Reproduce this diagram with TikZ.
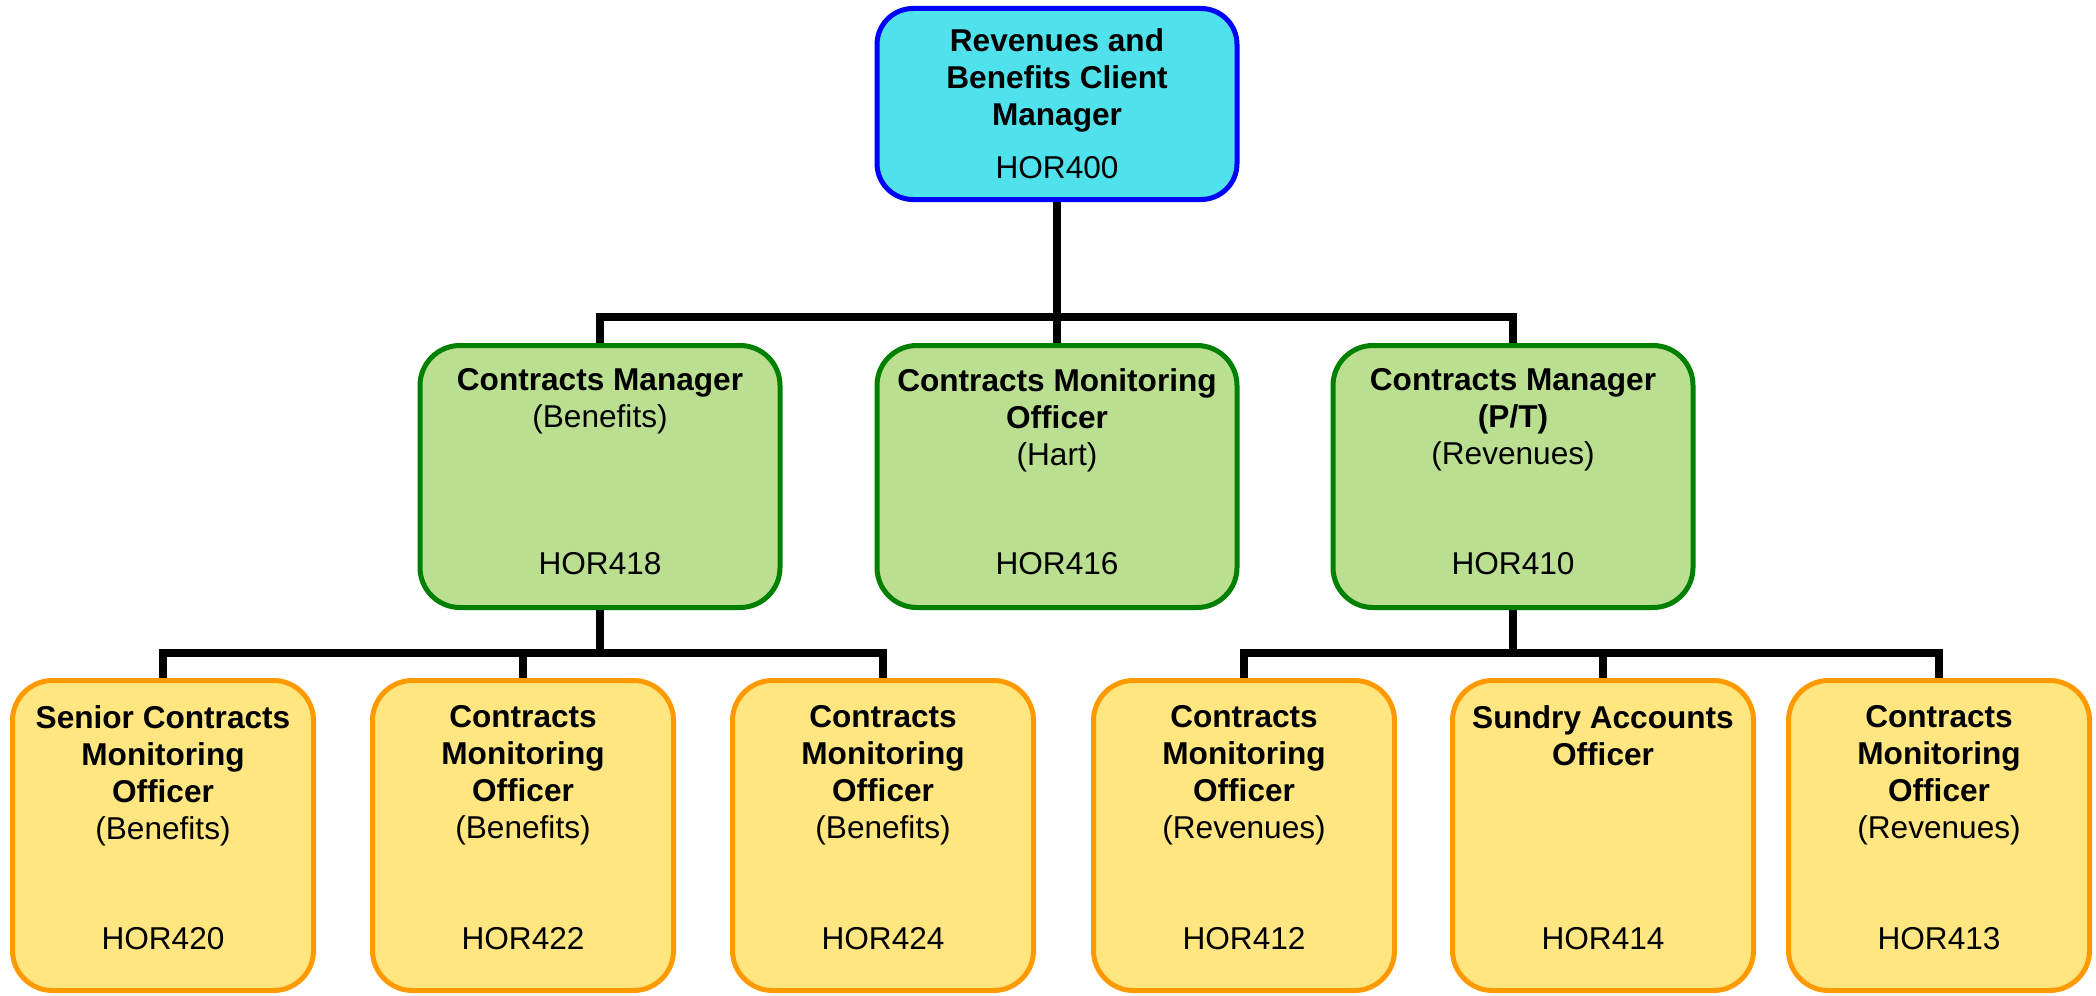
\documentclass[tikz,border=0pt]{standalone}
\usepackage{fontspec}
\setmainfont{Liberation Sans}
\usetikzlibrary{backgrounds}

\definecolor{topfill}{RGB}{79,226,236}
\definecolor{topline}{RGB}{0,0,255}
\definecolor{midfill}{RGB}{187,223,145}
\definecolor{midline}{RGB}{0,128,0}
\definecolor{lowfill}{RGB}{255,230,128}
\definecolor{lowline}{RGB}{255,153,0}

\begin{document}
\begin{tikzpicture}[x=0.5pt, y=-0.5pt,
        font=\fontsize{15.8pt}{18.5pt}\selectfont,
        every label/.style={inner sep=0pt, align=center},
        boss/.style={draw=topline, fill=topfill, line width=2.5pt, rounded corners=18pt,
            minimum width=180pt, minimum height=95.5pt, inner sep=0pt},
        mgr/.style={draw=midline, fill=midfill, line width=2.5pt, rounded corners=20pt,
            minimum width=180pt, minimum height=131pt, inner sep=0pt},
        staff/.style={draw=lowline, fill=lowfill, line width=2.5pt, rounded corners=20pt,
            minimum width=150.5pt, minimum height=155pt, inner sep=0pt},
        headtop/.style={anchor=north, yshift=-11.25pt},
        headmid/.style={anchor=north, yshift=-12.5pt},
        headlow/.style={anchor=north, yshift=-13.75pt},
        codetop/.style={anchor=base, yshift=12pt},
        codemid/.style={anchor=base, yshift=17.75pt},
        codelow/.style={anchor=base, yshift=22pt},
        link/.style={line width=4pt}]
        \useasboundingbox (0,0) rectangle (2096,995);

        \node[boss, label={[headtop]north:{\textbf{Revenues and}\\\textbf{Benefits Client}\\\textbf{Manager}}},
            label={[codetop]south:HOR400}] (h400) at (1057,104) {};

        \node[mgr, label={[headmid]north:{\textbf{Contracts Manager}\\(Benefits)}},
            label={[codemid]south:HOR418}] (h418) at (600,476.5) {};
        \node[mgr, label={[headmid]north:{\textbf{Contracts Monitoring}\\\textbf{Officer}\\(Hart)}},
            label={[codemid]south:HOR416}] (h416) at (1057,476.5) {};
        \node[mgr, label={[headmid]north:{\textbf{Contracts Manager}\\\textbf{(P/T)}\\(Revenues)}},
            label={[codemid]south:HOR410}] (h410) at (1513,476.5) {};

        \node[staff, label={[headlow]north:{\textbf{Senior Contracts}\\\textbf{Monitoring}\\\textbf{Officer}\\(Benefits)}},
            label={[codelow]south:HOR420}] (h420) at (163,835.5) {};
        \node[staff, label={[headlow]north:{\textbf{Contracts}\\\textbf{Monitoring}\\\textbf{Officer}\\(Benefits)}},
            label={[codelow]south:HOR422}] (h422) at (523,835.5) {};
        \node[staff, label={[headlow]north:{\textbf{Contracts}\\\textbf{Monitoring}\\\textbf{Officer}\\(Benefits)}},
            label={[codelow]south:HOR424}] (h424) at (883,835.5) {};
        \node[staff, label={[headlow]north:{\textbf{Contracts}\\\textbf{Monitoring}\\\textbf{Officer}\\(Revenues)}},
            label={[codelow]south:HOR412}] (h412) at (1244,835.5) {};
        \node[staff, label={[headlow]north:{\textbf{Sundry Accounts}\\\textbf{Officer}}},
            label={[codelow]south:HOR414}] (h414) at (1603,835.5) {};
        \node[staff, label={[headlow]north:{\textbf{Contracts}\\\textbf{Monitoring}\\\textbf{Officer}\\(Revenues)}},
            label={[codelow]south:HOR413}] (h413) at (1939,835.5) {};

        \coordinate (bus1) at (0,317);
        \coordinate (bus2) at (0,653);

        \begin{scope}[on background layer]
        \draw[link] (h400.south) -- (h400.south |- bus1) -| (h418.north);
        \draw[link] (h400.south) -- (h416.north);
        \draw[link] (h400.south) -- (h400.south |- bus1) -| (h410.north);

        \draw[link] (h418.south) -- (h418.south |- bus2) -| (h420.north);
        \draw[link] (h418.south) -- (h418.south |- bus2) -| (h422.north);
        \draw[link] (h418.south) -- (h418.south |- bus2) -| (h424.north);

        \draw[link] (h410.south) -- (h410.south |- bus2) -| (h412.north);
        \draw[link] (h410.south) -- (h410.south |- bus2) -| (h414.north);
        \draw[link] (h410.south) -- (h410.south |- bus2) -| (h413.north);
        \end{scope}
\end{tikzpicture}
\end{document}
